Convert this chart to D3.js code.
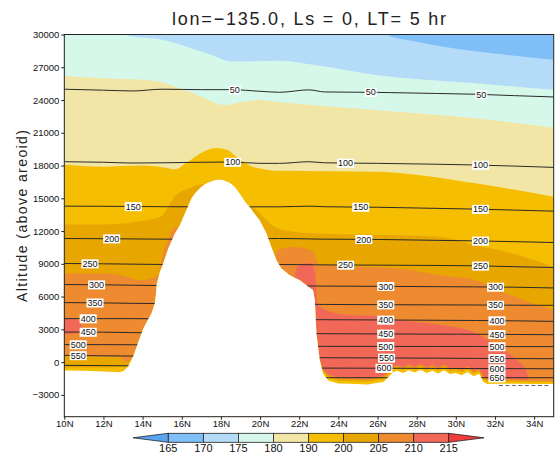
<!DOCTYPE html>
<html>
<head>
<meta charset="utf-8">
<script src="https://cdn.jsdelivr.net/npm/d3@7"></script>
<style>
  html, body { margin: 0; padding: 0; background: #fff; }
  svg { display: block; font-family: "Liberation Sans", Arial, Helvetica, sans-serif; }
</style>
</head>
<body>
<svg id="chart" width="556" height="455"></svg>
<script>
// ---- temperature colour scale (K) ----
const levels = [165, 170, 175, 180, 190, 200, 205, 210, 215];
// below 165, 165-170, 170-175, 175-180, 180-190, 190-200, 200-205, 205-210, 210-215, above 215
const bandColors = ["#58a6f0", "#80bef8", "#b4dcf8", "#d6f8ea", "#f2e6a6",
                    "#f6be00", "#e8a600", "#ee8a30", "#f26858", "#f23c3c"];

// ---- isotherm heights [latitude (deg N), altitude (m)] ----
const iso170 = [[10, 32000], [26.0, 31000], [26.42, 30000], [27.95, 29360], [29.3, 28900],
                [31.86, 28290], [35, 27680]];
const iso175 = [[10, 32000], [12.8, 30500], [13.2, 29900], [15.05, 29500], [17.27, 28290],
                [18.63, 27520], [21.0, 27600], [22.8, 27200], [25.9, 26300], [31, 25540], [35, 24930]];
const iso180 = [[10, 26210], [12, 26000], [14, 25850], [15, 25600], [16, 25000], [17, 24310],
                [18.2, 23550], [19, 23800], [20, 24000], [20.8, 23850], [25.9, 23090],
                [31, 22330], [35, 21470]];
const iso190 = [[10, 18100], [12, 17900], [14, 18000], [15, 17850], [15.7, 17650], [16.2, 18200],
                [17.1, 19270], [17.8, 19600], [18.3, 19450], [19, 18500], [19.6, 17900],
                [20, 17740], [21, 17520], [26, 17430], [31, 16370], [35, 15140]];
const iso200 = [[10, 12600], [12, 12600], [13.5, 12800], [14.9, 13300], [15.7, 15300],
                [16.5, 16000], [17.1, 16300], [17.6, 10000], [19.0, 10000], [19.5, 14300],
                [20, 13600], [20.5, 12700], [21.2, 12080], [22.9, 11780], [27.1, 11620],
                [29.2, 11470], [31, 10700], [32.6, 10090], [35, 8720]];
const iso205 = [[10, 8110], [12.3, 8110], [13.2, 7800], [13.9, 7500], [14.4, 7650], [14.8, 7950],
                [15.0, 9700], [15.3, 11200], [15.7, 12400], [15.9, 11500], [16.3, 8000],
                [20.5, 8000], [20.9, 10250], [21.7, 10550], [22.6, 10250], [22.8, 9800],
                [22.95, 9030], [23.7, 8870], [27.1, 8570], [29.2, 7950], [31, 7500],
                [32.6, 6270], [35, 4740]];
const iso210 = [[21.0, -5000], [21.6, 6000], [21.85, 8500], [22.0, 8870], [22.3, 9050],
                [22.6, 9000], [22.8, 8300], [22.95, 5300], [23.3, 4800], [24.6, 4300],
                [25.9, 4250], [27, 3900], [29.2, 3400], [30.9, 2750], [31.7, 1990],
                [32.6, 920], [33.25, 0], [33.6, -800], [34.0, -5000]];
// warm pocket near 10N: [lat, top, bottom]
const warmPocket = [[10, 4000, 2550], [10.4, 4000, 2580], [10.7, 3850, 2750], [10.92, 3300, 3260]];

// ---- cool near-surface layer: depth above ground (m) of each isotherm ----
const layerLat = [10, 12, 12.85, 13.25, 13.6, 23.0, 23.3, 26, 30, 33, 35];
const layer210 = [1600, 1600, 1500, 400, 0, 0, 550, 550, 550, 400, 300];
const layer205 = [1390, 1350, 1380, 370, 0, 0, 400, 400, 400, 300, 250];
const layer200 = [280, 350, 460, 150, 0, 0, 250, 250, 250, 180, 150];

// ---- surface height [lat, altitude (m)] ----
const terrain = [[10, -780], [11, -800], [12, -850], [12.85, -920], [13.05, -800], [13.27, -370],
  [13.52, 520], [13.78, 1835], [14.03, 3060], [14.25, 3800], [14.45, 4440], [14.62, 5360],
  [14.68, 6200], [14.71, 7040], [14.88, 8260], [15.05, 9030], [15.31, 10400], [15.65, 11780],
  [15.9, 12540], [16.16, 13610], [16.5, 15000], [16.67, 15450], [17.0, 16060], [17.26, 16370],
  [17.6, 16600], [17.86, 16730], [18.11, 16670], [18.45, 16420], [18.7, 16060], [18.96, 15450],
  [19.3, 14530], [19.47, 14220], [19.64, 13760], [19.98, 13000], [20.33, 11780], [20.58, 10550],
  [20.84, 9330], [21.09, 8570], [21.52, 7950], [22.03, 7500], [22.37, 7040], [22.71, 6580],
  [22.8, 5660], [22.88, 2600], [23.05, 160], [23.22, -1060], [23.48, -1680], [24, -1950],
  [24.6, -1980], [25.5, -2050], [26.0, -1900], [26.3, -1830], [26.6, -1300], [26.8, -920],
  [27.0, -800], [27.3, -1000], [27.6, -750], [27.9, -950], [28.2, -700], [28.5, -1000],
  [28.8, -800], [29.1, -1050], [29.4, -750], [29.7, -1100], [30.0, -1000], [30.3, -1200],
  [30.6, -900], [30.9, -1300], [31.2, -1100], [31.4, -1800], [31.6, -2000], [32, -1980],
  [33, -1980], [34, -2000], [35, -2000]];

// ---- pressure contours (Pa): altitude (m) at each latitude of pLats ----
const pLats = [10, 12, 13.5, 15, 17, 18.5, 20, 21, 22.5, 23.3, 26, 29, 31, 33, 35];
const pLevels = [50, 100, 150, 200, 250, 300, 350, 400, 450, 500, 550, 600, 650, 700];
const pAlt = [
  [24990, 24900, 24830, 24990, 24950, 24950, 24800, 24710, 24930, 24740, 24700, 24600, 24530, 24400, 24280],
  [18350, 18300, 18230, 18250, 18300, 18320, 18200, 18200, 18350, 18250, 18200, 18120, 18050, 17950, 17830],
  [14280, 14270, 14250, 14230, 14220, 14220, 14220, 14220, 14280, 14230, 14180, 14080, 14010, 13920, 13820],
  [11320, 11300, 11280, 11260, 11260, 11280, 11300, 11320, 11280, 11260, 11230, 11150, 11100, 11030, 10950],
  [9030, 9000, 8970, 8940, 8940, 8940, 8940, 8940, 8920, 8900, 8880, 8850, 8820, 8740, 8660],
  [7100, 7080, 7040, 7010, 7000, 7000, 6990, 6980, 6970, 6960, 6940, 6910, 6890, 6860, 6790],
  [5450, 5420, 5380, 5360, 5340, 5320, 5310, 5300, 5290, 5280, 5260, 5240, 5230, 5210, 5200],
  [3980, 3980, 3980, 3960, 3940, 3920, 3910, 3900, 3890, 3880, 3860, 3830, 3810, 3780, 3730],
  [2750, 2740, 2700, 2680, 2660, 2640, 2630, 2620, 2610, 2600, 2580, 2560, 2550, 2530, 2510],
  [1600, 1600, 1590, 1560, 1530, 1500, 1480, 1460, 1450, 1440, 1440, 1430, 1430, 1420, 1420],
  [610, 580, 550, 520, 490, 460, 440, 420, 410, 400, 380, 360, 340, 320, 310],
  [-300, -320, -340, -380, -420, -460, -500, -520, -540, -550, -560, -580, -590, -600, -610],
  [-1300, -1320, -1340, -1360, -1380, -1400, -1410, -1420, -1420, -1430, -1430, -1430, -1430, -1430, -1430],
  [-2100, -2110, -2120, -2120, -2130, -2130, -2130, -2140, -2140, -2140, -2140, -2140, -2140, -2140, -2140]
];
// where each contour carries a label (latitudes)
const pLabelLats = [
  [18.71, 25.65, 31.3], [18.6, 24.37, 31.26], [13.52, 25.14, 31.26], [12.42, 25.3, 31.26],
  [11.31, 24.37, 31.26], [11.65, 26.42, 32.03], [11.57, 26.42, 32.03], [11.22, 26.42, 32.1],
  [11.22, 26.42, 32.1], [10.71, 26.42, 32.1], [10.71, 26.46, 32.1], [26.33, 32.1], [32.1], []
];
// stretch of the 700 contour that shows through the ragged ground
const exposedLevel = 700;
const exposedLats = [32.2, 34.8];

const xTicks = [10, 12, 14, 16, 18, 20, 22, 24, 26, 28, 30, 32, 34];
const yTicks = [-3000, 0, 3000, 6000, 9000, 12000, 15000, 18000, 21000, 24000, 27000, 30000];

// ---- layout ----
const svg = d3.select("#chart");
const L = 64.3, R = 553.7, T = 34.5, B = 416.7;
const x = d3.scaleLinear([10, 35], [L, R]);
const y = d3.scaleLinear([-5000, 30000], [B, T]);

svg.append("defs").append("clipPath").attr("id", "plotClip")
  .append("rect").attr("x", L).attr("y", T).attr("width", R - L).attr("height", B - T);

const plot = svg.append("g").attr("clip-path", "url(#plotClip)");

// filled temperature bands, painted from cold (top) to warm
plot.append("rect").attr("x", L).attr("y", T).attr("width", R - L).attr("height", B - T)
  .attr("fill", bandColors[1]);

const below = d3.area().x(d => x(d[0])).y0(y(-5000)).y1(d => y(d[1])).curve(d3.curveMonotoneX);
[[iso170, 170], [iso175, 175], [iso180, 180], [iso190, 190], [iso200, 200], [iso205, 205], [iso210, 210]]
  .forEach(([pts, t]) => {
    plot.append("path").datum(pts).attr("d", below)
      .attr("fill", bandColors[levels.indexOf(t) + 1]);
  });

plot.append("path").datum(warmPocket)
  .attr("d", d3.area().x(d => x(d[0])).y0(d => y(d[2])).y1(d => y(d[1])).curve(d3.curveMonotoneX))
  .attr("fill", bandColors[levels.indexOf(210) + 1]);

// cool layer hugging the ground
[[layer210, 210], [layer205, 205], [layer200, 200]].forEach(([depth, t]) => {
  const depthAt = d3.scaleLinear(layerLat, depth);
  const pts = terrain.map(d => [d[0], d[1] + depthAt(d[0])]);
  plot.append("path").datum(pts)
    .attr("d", d3.area().x(d => x(d[0])).y0(y(-5000)).y1(d => y(d[1])))
    .attr("fill", bandColors[levels.indexOf(t)]);
});

// pressure contours
const pLine = d3.line().x(d => x(d[0])).y(d => y(d[1])).curve(d3.curveMonotoneX);
pAlt.forEach(row => {
  plot.append("path").datum(pLats.map((la, i) => [la, row[i]]))
    .attr("d", pLine).attr("fill", "none").attr("stroke", "#2a2a2a").attr("stroke-width", 1);
});

// ground mask
plot.append("path").datum(terrain)
  .attr("d", d3.area().x(d => x(d[0])).y0(y(-5000) + 2).y1(d => y(d[1])))
  .attr("fill", "#fff");

// exposed bit of the lowest contour
{
  const row = pAlt[pLevels.indexOf(exposedLevel)];
  const altAt = d3.scaleLinear(pLats, row);
  const pts = d3.range(exposedLats[0], exposedLats[1] + 0.001, 0.1).map(la => [la, altAt(la)]);
  plot.append("path").datum(pts).attr("d", pLine).attr("fill", "none")
    .attr("stroke", "#555").attr("stroke-width", 1).attr("stroke-dasharray", "4,2.5");
}

// contour labels
pLevels.forEach((lev, k) => {
  const altAt = d3.scaleLinear(pLats, pAlt[k]);
  pLabelLats[k].forEach(la => {
    const g = plot.append("g").attr("transform", `translate(${x(la)},${y(altAt(la))})`);
    const t = g.append("text").text(lev).attr("text-anchor", "middle").attr("dy", "0.35em")
      .attr("font-size", 9).attr("fill", "#111");
    const bb = t.node().getBBox();
    g.insert("rect", "text").attr("x", bb.x - 1).attr("y", bb.y + 0.5)
      .attr("width", bb.width + 2).attr("height", bb.height - 1).attr("fill", "#fff");
  });
});

// frame
svg.append("rect").attr("x", L).attr("y", T).attr("width", R - L).attr("height", B - T)
  .attr("fill", "none").attr("stroke", "#222").attr("stroke-width", 1);

// axes
const yAxis = svg.append("g").attr("transform", `translate(${L},0)`)
  .call(d3.axisLeft(y).tickValues(yTicks).tickSize(3).tickSizeOuter(0).tickPadding(2)
    .tickFormat(d3.format("d")));
const xAxis = svg.append("g").attr("transform", `translate(0,${B})`)
  .call(d3.axisBottom(x).tickValues(xTicks).tickSize(3).tickSizeOuter(0).tickPadding(1)
    .tickFormat(d => d + "N"));
[yAxis, xAxis].forEach(a => {
  a.select(".domain").remove();
  a.selectAll("text").attr("font-size", 9.5).attr("fill", "#111")
    .attr("font-family", "'Liberation Sans', Arial, sans-serif");
  a.selectAll("line").attr("stroke", "#222");
});

// titles
svg.append("text").attr("x", (L + R) / 2).attr("y", 25).attr("text-anchor", "middle")
  .attr("font-size", 18).attr("fill", "#222")
  .attr("textLength", 274).attr("lengthAdjust", "spacing")
  .text("lon=\u2212135.0, Ls = 0, LT= 5 hr");
svg.append("text").attr("transform", "translate(27,216) rotate(-90)").attr("text-anchor", "middle")
  .attr("font-size", 14).attr("fill", "#222")
  .attr("textLength", 172).attr("lengthAdjust", "spacing")
  .text("Altitude (above areoid)");

// colour bar
const cb = svg.append("g");
const cbX = d3.scalePoint(levels, [168.3, 448.7]);
const cbTop = 433.3, cbBot = 442.3, cbMid = (cbTop + cbBot) / 2;
cb.append("path").attr("d", `M${cbX(165)},${cbTop}L133,${cbMid}L${cbX(165)},${cbBot}Z`)
  .attr("fill", bandColors[0]).attr("stroke", "#222").attr("stroke-width", 0.8);
levels.slice(0, -1).forEach((lv, i) => {
  cb.append("rect").attr("x", cbX(lv)).attr("y", cbTop)
    .attr("width", cbX(levels[i + 1]) - cbX(lv)).attr("height", cbBot - cbTop)
    .attr("fill", bandColors[i + 1]).attr("stroke", "#222").attr("stroke-width", 0.8);
});
cb.append("path").attr("d", `M${cbX(215)},${cbTop}L484,${cbMid}L${cbX(215)},${cbBot}Z`)
  .attr("fill", bandColors[9]).attr("stroke", "#222").attr("stroke-width", 0.8);
levels.forEach(lv => {
  cb.append("text").attr("x", cbX(lv)).attr("y", 452).attr("text-anchor", "middle")
    .attr("font-size", 11).attr("fill", "#111").text(lv);
});
</script>
</body>
</html>
